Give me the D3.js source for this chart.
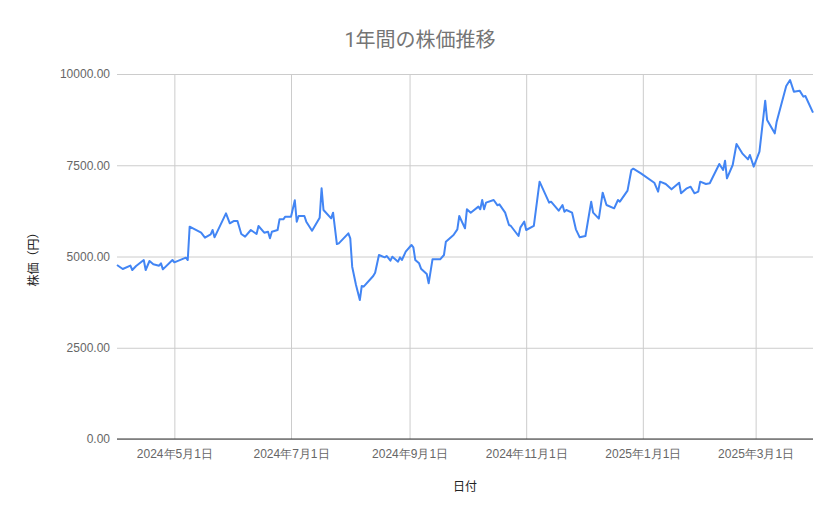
<!DOCTYPE html>
<html lang="ja">
<head>
    <meta charset="UTF-8">
    <title>1年間の株価推移</title>
    <script src="https://d3js.org/d3.v7.min.js"></script>
    <style>
        body {
            margin: 0;
            background: #fff;
        }
        svg {
            font-family: Roboto, "Noto Sans CJK JP", sans-serif;
        }
        .title {
            fill: #757575;
            font-size: 20px;
        }
        .tick text {
            fill: #666;
            font-size: 12px;
        }
        .axis-label {
            fill: #222;
            font-size: 12px;
        }
    </style>
</head>
<body>
    <svg id="chart" width="839" height="519"></svg>

    <script>
        // Data (dates and closing prices)
        const dates = [
            "2024-04-01", "2024-04-04", "2024-04-08", "2024-04-09", "2024-04-11", "2024-04-15",
            "2024-04-16", "2024-04-18", "2024-04-20", "2024-04-23", "2024-04-24", "2024-04-25",
            "2024-04-30", "2024-05-01", "2024-05-07", "2024-05-08", "2024-05-09", "2024-05-15",
            "2024-05-17", "2024-05-20", "2024-05-21", "2024-05-22", "2024-05-28", "2024-05-30",
            "2024-06-01", "2024-06-03", "2024-06-05", "2024-06-07", "2024-06-10", "2024-06-13",
            "2024-06-14", "2024-06-17", "2024-06-19", "2024-06-20", "2024-06-21", "2024-06-24",
            "2024-06-25", "2024-06-27", "2024-06-28", "2024-07-01", "2024-07-03", "2024-07-04",
            "2024-07-05", "2024-07-08", "2024-07-09", "2024-07-12", "2024-07-16", "2024-07-17",
            "2024-07-18", "2024-07-22", "2024-07-23", "2024-07-25", "2024-07-26", "2024-07-31",
            "2024-08-01", "2024-08-02", "2024-08-04", "2024-08-06", "2024-08-07", "2024-08-08",
            "2024-08-13", "2024-08-14", "2024-08-16", "2024-08-19", "2024-08-20", "2024-08-22",
            "2024-08-23", "2024-08-26", "2024-08-27", "2024-08-28", "2024-08-30", "2024-09-02",
            "2024-09-03", "2024-09-04", "2024-09-06", "2024-09-07", "2024-09-10", "2024-09-11",
            "2024-09-13", "2024-09-17", "2024-09-19", "2024-09-20", "2024-09-24", "2024-09-26",
            "2024-09-27", "2024-09-30", "2024-10-01", "2024-10-03", "2024-10-07", "2024-10-08",
            "2024-10-09", "2024-10-10", "2024-10-11", "2024-10-15", "2024-10-17", "2024-10-18",
            "2024-10-21", "2024-10-23", "2024-10-24", "2024-10-28", "2024-10-29", "2024-10-31",
            "2024-11-01", "2024-11-05", "2024-11-08", "2024-11-13", "2024-11-14", "2024-11-18",
            "2024-11-20", "2024-11-21", "2024-11-22", "2024-11-25", "2024-11-27", "2024-11-29",
            "2024-12-02", "2024-12-05", "2024-12-06", "2024-12-09", "2024-12-11", "2024-12-13",
            "2024-12-17", "2024-12-19", "2024-12-20", "2024-12-24", "2024-12-26", "2024-12-27",
            "2024-12-31", "2025-01-07", "2025-01-09", "2025-01-10", "2025-01-13", "2025-01-16",
            "2025-01-20", "2025-01-21", "2025-01-24", "2025-01-26", "2025-01-28", "2025-01-30",
            "2025-01-31", "2025-02-03", "2025-02-05", "2025-02-10", "2025-02-12", "2025-02-13",
            "2025-02-14", "2025-02-17", "2025-02-19", "2025-02-22", "2025-02-25", "2025-02-26",
            "2025-02-28", "2025-03-03", "2025-03-06", "2025-03-07", "2025-03-11", "2025-03-12",
            "2025-03-17", "2025-03-19", "2025-03-21", "2025-03-24", "2025-03-26", "2025-03-27",
            "2025-03-31"
        ];

        const prices = [
            4767, 4658, 4749, 4630, 4740, 4904,
            4630, 4877, 4785, 4749, 4813, 4648,
            4904, 4840, 4968, 4904, 5817, 5653,
            5516, 5607, 5726, 5525, 6183, 5909,
            5972, 5972, 5616, 5543, 5726, 5616,
            5836, 5653, 5680, 5498, 5680, 5726,
            6018, 6018, 6091, 6091, 6540, 5954,
            6110, 6110, 5954, 5707, 6064, 6870,
            6274, 6046, 6201, 5342, 5361, 5635,
            5498, 4721, 4219, 3808, 4192, 4174,
            4466, 4557, 5041, 4977, 5014, 4886,
            4995, 4858, 4977, 4904, 5132, 5315,
            5251, 4904, 4813, 4667, 4521, 4265,
            4922, 4922, 5041, 5406, 5589, 5744,
            6110, 5772, 6293, 6201, 6366, 6293,
            6548, 6293, 6475, 6548, 6402, 6429,
            6201, 5863, 5836, 5562, 5799, 5954,
            5726, 5836, 7050, 6475, 6502, 6255,
            6411, 6228, 6274, 6201, 5744, 5525,
            5562, 6502, 6201, 6037, 6749, 6411,
            6320, 6548, 6502, 6803, 7370, 7406,
            7279, 7022, 6776, 7050, 6986, 6840,
            7022, 6731, 6868, 6913, 6731, 6776,
            7050, 6986, 7005, 7534, 7370, 7625,
            7142, 7507, 8082, 7826, 7662, 7781,
            7461, 7872, 9269, 8740, 8374, 8694,
            9671, 9836, 9516, 9544, 9379, 9397,
            8941
        ];

        const yTicks = [0, 2500, 5000, 7500, 10000];

        const parseDate = d3.timeParse("%Y-%m-%d");
        const series = dates.map((d, i) => ({ date: parseDate(d), price: prices[i] }));

        const svg = d3.select("#chart");
        const margin = { top: 74, right: 26, bottom: 80, left: 117 };
        const W = +svg.attr("width");
        const H = +svg.attr("height");

        const x = d3.scaleTime()
            .domain(d3.extent(series, d => d.date))
            .range([margin.left, W - margin.right]);

        const y = d3.scaleLinear()
            .domain([0, 10000])
            .range([H - margin.bottom, margin.top]);

        // Title
        svg.append("text")
            .attr("class", "title")
            .attr("x", 420)
            .attr("y", 47)
            .attr("text-anchor", "middle")
            .text("1年間の株価推移");

        // Horizontal grid + y labels
        const yAxis = svg.append("g")
            .attr("transform", `translate(${margin.left},0)`)
            .call(d3.axisLeft(y)
                .tickValues(yTicks)
                .tickFormat(d3.format(".2f"))
                .tickSize(-(W - margin.left - margin.right))
                .tickPadding(7));
        yAxis.select(".domain").remove();
        yAxis.selectAll(".tick line").attr("stroke", "#cccccc");

        // Vertical grid + x labels
        const fmtDate = d => `${d.getFullYear()}年${d.getMonth() + 1}月${d.getDate()}日`;
        const xAxis = svg.append("g")
            .attr("transform", `translate(0,${H - margin.bottom})`)
            .call(d3.axisBottom(x)
                .ticks(d3.timeMonth.every(2))
                .tickFormat(fmtDate)
                .tickSize(-(H - margin.top - margin.bottom))
                .tickPadding(8));
        xAxis.select(".domain").remove();
        xAxis.selectAll(".tick line").attr("stroke", "#cccccc");
        xAxis.selectAll(".tick text").attr("dy", "0.9em");

        // Baseline
        svg.append("line")
            .attr("x1", margin.left)
            .attr("x2", W - margin.right)
            .attr("y1", y(0))
            .attr("y2", y(0))
            .attr("stroke", "#333")
            .attr("stroke-width", 1);

        // Axis titles
        svg.append("text")
            .attr("class", "axis-label")
            .attr("x", (margin.left + W - margin.right) / 2)
            .attr("y", 491)
            .attr("text-anchor", "middle")
            .text("日付");

        svg.append("text")
            .attr("class", "axis-label")
            .attr("transform", `translate(38,${(margin.top + H - margin.bottom) / 2}) rotate(-90)`)
            .attr("text-anchor", "middle")
            .text("株価（円）");

        // Price line
        const line = d3.line()
            .x(d => x(d.date))
            .y(d => y(d.price));

        svg.append("path")
            .datum(series)
            .attr("fill", "none")
            .attr("stroke", "#4285f4")
            .attr("stroke-width", 2)
            .attr("stroke-linejoin", "round")
            .attr("d", line);
    </script>
</body>
</html>
